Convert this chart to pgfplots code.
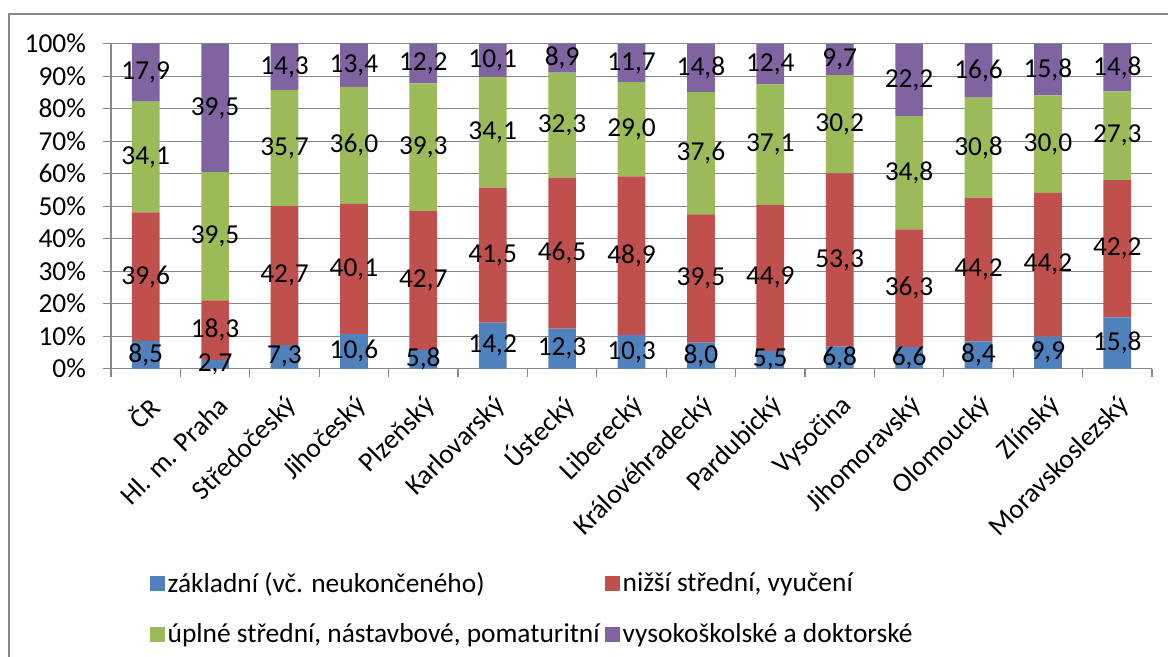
\documentclass[border=0pt]{standalone}
\usepackage{pgfplots}
\pgfplotsset{compat=1.18}
\usepackage{pgfplotstable}
\usepackage{fontspec}
\setmainfont{Carlito}

\definecolor{zakl}{HTML}{4F81BD}
\definecolor{nizsi}{HTML}{C0504D}
\definecolor{uplne}{HTML}{9BBB59}
\definecolor{vs}{HTML}{8064A2}
\definecolor{osa}{HTML}{888888}

\newcommand\ff{\fontsize{13.7}{16}\selectfont}

% vzdělanostní struktura podle krajů (%)
% a = základní, b = nižší střední, c = úplné střední, d = vysokoškolské
\pgfplotstableread{
i a b c d
0 8.5 39.6 34.1 17.9
1 2.7 18.3 39.5 39.5
2 7.3 42.7 35.7 14.3
3 10.6 40.1 36.0 13.4
4 5.8 42.7 39.3 12.2
5 14.2 41.5 34.1 10.1
6 12.3 46.5 32.3 8.9
7 10.3 48.9 29.0 11.7
8 8.0 39.5 37.6 14.8
9 5.5 44.9 37.1 12.4
10 6.8 53.3 30.2 9.7
11 6.6 36.3 34.8 22.2
12 8.4 44.2 30.8 16.6
13 9.9 44.2 30.0 15.8
14 15.8 42.2 27.3 14.8
}\vzdelani

\pgfplotsset{
  /pgf/number format/assume math mode=true,
  plocha/.style={
    scale only axis, width=520.5pt, height=162.5pt,
    at={(55.5pt,144.15pt)}, anchor=south west,
    xmin=-0.5, xmax=14.5, ymin=0, ymax=100,
  },
  ctverec/.style={legend image code/.code={\fill[##1] (0pt,-3.75pt) rectangle (7.5pt,3.75pt);}},
}

\begin{document}
\begin{tikzpicture}[x=1pt,y=1pt]
\useasboundingbox (0,0) rectangle (584,328.5);
\draw[osa, line width=1.15pt] (4.5,-10) -- (4.5,321.5) -- (600,321.5);

\begin{axis}[plocha,
  ybar stacked, bar width=13.85pt,
  axis x line*=bottom, axis y line*=left,
  axis line style={draw=osa, line width=0.6pt},
  ytick={0,10,...,100},
  yticklabel={\pgfmathprintnumber{\tick}\%},
  ymajorgrids, grid style={draw=osa, line width=0.6pt},
  xtick={0,...,14},
  xticklabels={ČR, Hl. m. Praha, Středočeský, Jihočeský, Plzeňský, Karlovarský, Ústecký, Liberecký, Královéhradecký, Pardubický, Vysočina, Jihomoravský, Olomoucký, Zlínský, Moravskoslezský},
  minor xtick={-0.5,0.5,...,14.5},
  tick align=outside, major tick length=4pt, minor tick length=4pt,
  tick style={draw=osa, line width=0.6pt},
  major x tick style={draw=none},
  yticklabel style={font=\ff, xshift=-5pt},
  xticklabel style={font=\ff, xshift=6.5pt, yshift=-10pt, rotate=45, anchor=east},
  legend columns=2,
  legend cell align=left,
  legend style={draw=none, fill=none, font=\ff, at={(0.031,-0.6)}, anchor=north west,
    nodes={inner xsep=1.5pt},
    /tikz/every even column/.append style={column sep=1pt}, row sep=10pt},
]
\addplot[fill=zakl, draw=none, ctverec] table[x=i, y=a] \vzdelani;
\addplot[fill=nizsi, draw=none, ctverec] table[x=i, y=b] \vzdelani;
\addplot[fill=uplne, draw=none, ctverec] table[x=i, y=c] \vzdelani;
\addplot[fill=vs, draw=none, ctverec] table[x=i, y=d] \vzdelani;
\legend{základní (vč. neukončeného), nižší střední{,} vyučení, úplné střední{,} nástavbové{,} pomaturitní, vysokoškolské a doktorské}
\end{axis}

% popisky hodnot uprostřed jednotlivých úseků
\begin{axis}[plocha, hide axis, clip=false,
  point meta=explicit,
  nodes near coords={\pgfmathprintnumber[fixed, fixed zerofill, precision=1, use comma]{\pgfplotspointmeta}},
  every node near coord/.style={anchor=center, font=\ff, text=black, inner sep=0pt},
]
\addplot[only marks, mark=none] table[x=i, y expr=\thisrow{a}/2, meta=a] \vzdelani;
\addplot[only marks, mark=none] table[x=i, y expr=\thisrow{a}+\thisrow{b}/2, meta=b] \vzdelani;
\addplot[only marks, mark=none] table[x=i, y expr=\thisrow{a}+\thisrow{b}+\thisrow{c}/2, meta=c] \vzdelani;
\addplot[only marks, mark=none] table[x=i, y expr=\thisrow{a}+\thisrow{b}+\thisrow{c}+\thisrow{d}/2, meta=d] \vzdelani;
\end{axis}
\end{tikzpicture}
\end{document}
